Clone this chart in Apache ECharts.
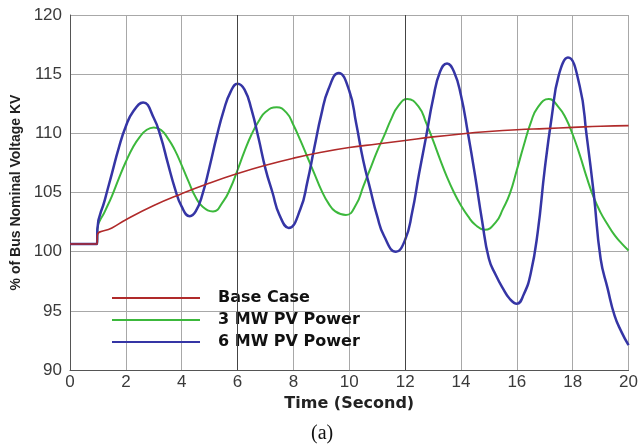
<!DOCTYPE html>
<html>
<head>
<meta charset="utf-8">
<script src="https://cdn.jsdelivr.net/npm/echarts@6/dist/echarts.min.js"></script>
<style>html,body{margin:0;padding:0;background:#fff;}#c{width:641px;height:447px;}</style>
</head>
<body>
<div id="c"></div>
<script>
const seriesNames = ['Base Case', '3 MW PV Power', '6 MW PV Power'];
const xTicks = [0, 2, 4, 6, 8, 10, 12, 14, 16, 18, 20];
const yTicks = [90, 95, 100, 105, 110, 115, 120];

const baseT = [0, 0.97, 0.98, 1.5, 2, 3, 4, 5, 6, 7, 8, 9, 10, 11, 12, 13, 14, 15, 16, 17, 18, 19, 20];
const baseV = [100.65, 100.65, 101.4, 102.0, 102.7, 103.9, 104.9, 105.8, 106.6, 107.3, 107.9, 108.4, 108.8, 109.1, 109.4, 109.7, 109.95, 110.15, 110.3, 110.4, 110.5, 110.6, 110.65];

const pv3T = [0, 0.97, 0.98, 1.25, 1.5, 1.75, 2, 2.25, 2.5, 2.75, 3, 3.25, 3.5, 3.75, 4, 4.25, 4.5, 4.75, 5.12, 5.5, 5.75, 6, 6.25, 6.5, 6.75, 7, 7.4, 7.75, 8, 8.25, 8.5, 8.75, 9, 9.25, 9.5, 9.88, 10.25, 10.5, 10.75, 11, 11.25, 11.5, 11.75, 12.08, 12.5, 12.75, 13, 13.25, 13.5, 13.75, 14, 14.25, 14.5, 14.85, 15.25, 15.5, 15.75, 16, 16.25, 16.5, 16.75, 17.14, 17.5, 17.75, 18, 18.25, 18.5, 18.75, 19, 19.25, 19.5, 19.75, 20];
const pv3V = [100.65, 100.65, 101.9, 103.4, 104.7, 106.2, 107.6, 108.8, 109.7, 110.3, 110.5, 110.3, 109.6, 108.6, 107.3, 105.9, 104.6, 103.8, 103.4, 104.3, 105.4, 106.9, 108.5, 109.9, 111.0, 111.8, 112.2, 111.75, 110.7, 109.4, 108.0, 106.6, 105.2, 104.1, 103.4, 103.1, 104.0, 105.5, 107.0, 108.5, 109.8, 111.2, 112.3, 112.9, 112.2, 110.9, 109.4, 107.8, 106.3, 105.0, 103.9, 103.0, 102.3, 101.85, 102.5, 103.6, 104.9, 106.9, 109.0, 110.9, 112.2, 112.9, 112.2, 111.3, 109.9, 108.2, 106.3, 104.6, 103.3, 102.3, 101.4, 100.7, 100.1];

const pv6T = [0, 0.97, 0.98, 1.25, 1.5, 1.75, 2, 2.25, 2.62, 3, 3.25, 3.5, 3.75, 4, 4.29, 4.5, 4.75, 5, 5.25, 5.5, 5.75, 6, 6.25, 6.5, 6.75, 7, 7.25, 7.5, 7.83, 8.25, 8.5, 8.75, 9, 9.25, 9.62, 10, 10.25, 10.5, 10.75, 11, 11.25, 11.67, 12, 12.25, 12.5, 12.75, 13, 13.25, 13.5, 13.75, 14, 14.25, 14.5, 14.75, 15, 15.25, 15.5, 15.75, 16, 16.25, 16.5, 16.75, 17, 17.25, 17.5, 17.83, 18.25, 18.5, 18.75, 19, 19.25, 19.5, 19.75, 20];
const pv6V = [100.65, 100.65, 101.9, 104.4, 106.6, 108.8, 110.6, 111.8, 112.6, 111.3, 109.7, 107.5, 105.4, 103.8, 103.0, 103.4, 104.9, 107.2, 109.7, 111.9, 113.5, 114.2, 113.7, 112.0, 109.6, 107.0, 105.0, 103.1, 102.0, 103.6, 105.9, 108.8, 111.6, 113.7, 115.1, 113.6, 110.8, 107.7, 105.3, 103.0, 101.3, 100.0, 101.0, 103.3, 106.6, 109.7, 112.9, 115.2, 115.9, 115.2, 113.2, 110.0, 106.5, 102.7, 99.4, 98.0, 96.9, 96.0, 95.6, 96.4, 98.2, 101.7, 107.0, 111.4, 114.9, 116.4, 114.0, 109.8, 105.0, 99.4, 96.9, 94.6, 93.2, 92.1];

const pairs = (t, v) => t.map((x, i) => [x, v[i]]);

const chart = echarts.init(document.getElementById('c'), null, {renderer: 'canvas'});
const gridGrey = '#a8a8a8';
chart.setOption({
  backgroundColor: '#ffffff',
  animation: false,
  grid: {left: 70, right: 11, top: 15, bottom: 77, containLabel: false},
  legend: {
    orient: 'vertical', left: 111, top: 290, padding: 0,
    itemWidth: 88, itemHeight: 15, itemGap: 6,
    data: seriesNames,
    itemStyle: {opacity: 0},
    textStyle: {fontFamily: 'DejaVu Sans', fontWeight: 'bold', fontSize: 16, color: '#111', padding: [0, 0, 0, 13]}
  },
  xAxis: {
    type: 'value', min: xTicks[0], max: xTicks[xTicks.length - 1], interval: 2,
    name: 'Time (Second)', nameLocation: 'middle', nameGap: 26,
    nameTextStyle: {fontFamily: 'DejaVu Sans', fontWeight: 'bold', fontSize: 16, color: '#222'},
    axisLine: {lineStyle: {color: '#555', width: 1}},
    axisTick: {show: false},
    axisLabel: {fontFamily: 'Liberation Sans', fontSize: 17, color: '#3a3a3a', margin: 4},
    splitLine: {show: true, lineStyle: {color: gridGrey, width: 1}}
  },
  yAxis: {
    type: 'value', min: yTicks[0], max: yTicks[yTicks.length - 1], interval: 5,
    name: '% of Bus Nominal Voltage KV', nameLocation: 'middle', nameGap: 45, nameRotate: 90,
    nameTextStyle: {fontFamily: 'Liberation Sans', fontWeight: 'bold', fontSize: 14, color: '#222'},
    axisLine: {show: true, lineStyle: {color: '#555', width: 1}},
    axisTick: {show: false},
    axisLabel: {fontFamily: 'Liberation Sans', fontSize: 17, color: '#3a3a3a', margin: 8},
    splitLine: {show: true, lineStyle: {color: gridGrey, width: 1}}
  },
  graphic: [{
    type: 'text', left: 311, top: 424,
    style: {text: '(a)', font: '20px "Liberation Serif"', fill: '#111'}
  }],
  series: [
    {
      name: seriesNames[0], type: 'line', data: pairs(baseT, baseV), z: 4,
      smooth: 0.5, symbol: 'none',
      lineStyle: {color: '#b02a2a', width: 1.6}, itemStyle: {color: '#b02a2a'},
      markLine: {
        silent: true, symbol: 'none', label: {show: false},
        lineStyle: {color: '#444', width: 1, type: 'solid'},
        data: [{xAxis: 6}, {xAxis: 12}]
      }
    },
    {
      name: seriesNames[1], type: 'line', data: pairs(pv3T, pv3V), z: 2,
      smooth: 0.5, symbol: 'none',
      lineStyle: {color: '#3cb83c', width: 2}, itemStyle: {color: '#3cb83c'}
    },
    {
      name: seriesNames[2], type: 'line', data: pairs(pv6T, pv6V), z: 3,
      smooth: 0.5, symbol: 'none',
      lineStyle: {color: '#3535a5', width: 2.5}, itemStyle: {color: '#3535a5'}
    }
  ]
});
</script>
</body>
</html>
